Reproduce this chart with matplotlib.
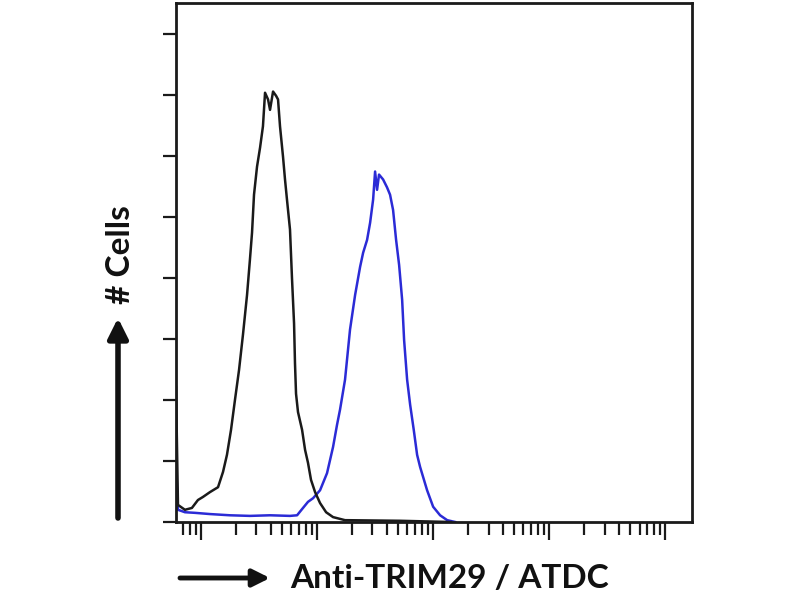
import numpy as np
import matplotlib
matplotlib.use('Agg')
import matplotlib.pyplot as plt
from matplotlib.ticker import LogLocator, NullFormatter, FixedLocator

# fluorescence intensity (log10) and cell counts
control_log = [-0.215, -0.198, -0.138, -0.078, -0.026, 0.017, 0.078, 0.147, 0.19, 0.224,
               0.259, 0.293, 0.328, 0.362, 0.397, 0.422, 0.440, 0.457, 0.483, 0.509,
               0.534, 0.552, 0.578, 0.595, 0.621, 0.647, 0.664, 0.681, 0.707, 0.724,
               0.741, 0.767, 0.784, 0.802, 0.810, 0.819, 0.836, 0.871, 0.897, 0.922,
               0.948, 0.983, 1.026, 1.078, 1.138, 1.241, 1.716, 2.15]
control_cells = [22.1, 2.8, 2.0, 2.3, 3.6, 4.1, 4.9, 5.7, 8.2, 11.0,
                 15.1, 20.0, 24.9, 30.7, 37.2, 43.0, 47.4, 53.6, 58.2, 61.3,
                 64.8, 70.3, 69.2, 67.5, 70.5, 69.8, 69.2, 64.8, 59.8, 56.1,
                 52.8, 47.9, 40.0, 32.5, 26.0, 21.0, 18.0, 15.1, 11.8, 9.7,
                 6.9, 4.9, 3.1, 1.6, 0.8, 0.3, 0.2, 0.0]

trim29_log = [-0.215, -0.198, -0.138, -0.052, 0.078, 0.250, 0.422, 0.595, 0.767, 0.828,
              0.879, 0.922, 0.966, 1.026, 1.086, 1.138, 1.172, 1.198, 1.241, 1.284,
              1.328, 1.371, 1.397, 1.431, 1.457, 1.483, 1.500, 1.517, 1.534, 1.569,
              1.603, 1.629, 1.655, 1.681, 1.707, 1.733, 1.750, 1.776, 1.802, 1.833,
              1.862, 1.888, 1.948, 2.000, 2.060, 2.121, 2.190]
trim29_cells = [9.7, 2.0, 1.6, 1.5, 1.3, 1.1, 1.0, 1.1, 1.0, 1.1,
                2.3, 3.3, 3.9, 5.2, 8.0, 12.3, 15.9, 18.4, 23.3, 31.5,
                37.2, 41.8, 44.1, 46.2, 49.0, 52.8, 57.4, 54.4, 56.9, 56.1,
                54.8, 53.6, 51.1, 46.2, 42.1, 36.4, 29.8, 23.3, 19.2, 15.1,
                11.0, 9.0, 5.2, 2.5, 1.1, 0.3, 0.0]

fig = plt.figure(figsize=(8, 6), dpi=100)
ax = fig.add_axes([0.22, 0.13, 0.645, 0.865])

ax.plot(10 ** np.array(control_log), control_cells, color='#1a1a1a', lw=1.8, zorder=3)
ax.plot(10 ** np.array(trim29_log), trim29_cells, color='#2b2bd6', lw=1.8, zorder=2)

ax.set_xscale('log')
ax.set_xlim(10 ** -0.215, 10 ** 4.23)
ax.set_ylim(0, 85)

ax.xaxis.set_major_locator(FixedLocator([1, 10, 100, 1000, 10000]))
ax.xaxis.set_minor_locator(LogLocator(base=10, subs=np.arange(2, 10), numticks=20))
ax.xaxis.set_major_formatter(NullFormatter())
ax.xaxis.set_minor_formatter(NullFormatter())
ax.set_yticks(np.arange(0, 81, 10))
ax.set_yticklabels([])

ax.tick_params(axis='x', which='major', direction='out', length=13, width=1.6, color='#1a1a1a')
ax.tick_params(axis='x', which='minor', direction='out', length=9, width=1.6, color='#1a1a1a')
ax.tick_params(axis='y', which='major', direction='out', length=9.5, width=1.6, color='#1a1a1a')
for s in ax.spines.values():
    s.set_linewidth(2)
    s.set_color('#1a1a1a')

# axis captions with arrows
fig.text(290, 22, 'Anti-TRIM29 / ATDC', fontsize=24, fontweight='bold',
         family='Lato', ha='left', va='center', color='#111111',
         transform=None)
fig.text(121, 345, '# Cells', fontsize=24, fontweight='bold', family='Lato',
         rotation=90, ha='center', va='center', color='#111111', transform=None)
ax.annotate('', xy=(270, 22), xytext=(180, 22), xycoords='figure pixels',
            textcoords='figure pixels',
            arrowprops=dict(arrowstyle='-|>', lw=3.5, color='#111111',
                            mutation_scale=26, shrinkA=0, shrinkB=0))
ax.annotate('', xy=(118, 282), xytext=(118, 82), xycoords='figure pixels',
            textcoords='figure pixels',
            arrowprops=dict(arrowstyle='-|>', lw=4, color='#111111',
                            mutation_scale=30, shrinkA=0, shrinkB=0))

fig.savefig('out.png', dpi=100)
